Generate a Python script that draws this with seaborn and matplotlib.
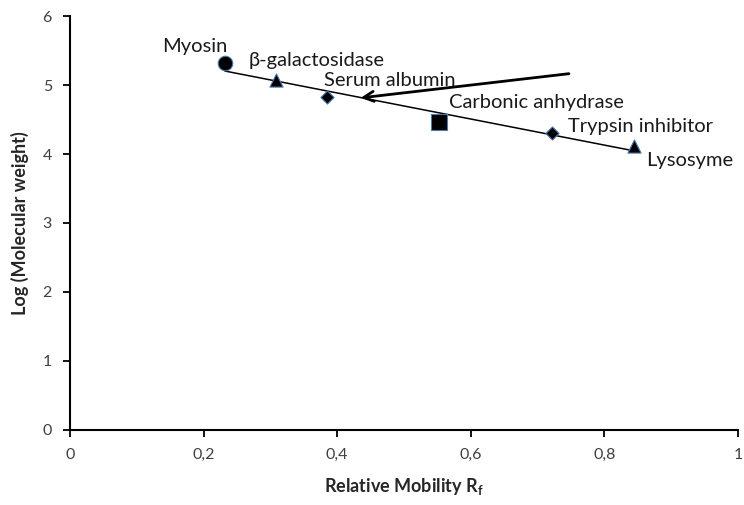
import matplotlib
matplotlib.use("Agg")
import matplotlib.pyplot as plt
import seaborn as sns
import pandas as pd

proteins = ["Myosin", "β-galactosidase", "Serum albumin", "Carbonic anhydrase", "Trypsin inhibitor", "Lysosyme"]
rf = [0.232, 0.308, 0.385, 0.552, 0.722, 0.844]
log_mw = [5.32, 5.07, 4.83, 4.46, 4.30, 4.12]
marker_shapes = ["o", "^", "D", "s", "D", "^"]
marker_sizes = [110, 90, 45, 120, 45, 90]
label_pos = [(0.138, 5.56), (0.268, 5.36), (0.38, 5.07), (0.567, 4.75), (0.745, 4.40), (0.862, 3.90)]
arrow_start = (0.751, 5.17)
arrow_end = (0.431, 4.81)
xticks = [0, 0.2, 0.4, 0.6, 0.8, 1.0]
xticklabels = ["0", "0,2", "0,4", "0,6", "0,8", "1"]
yticks = [0, 1, 2, 3, 4, 5, 6]

sns.set_style("ticks")
plt.rcParams["font.family"] = ["Lato", "DejaVu Sans"]
plt.rcParams["mathtext.fontset"] = "custom"
plt.rcParams["mathtext.rm"] = "Lato"
plt.rcParams["mathtext.bf"] = "Lato:bold"

df = pd.DataFrame({"protein": proteins, "rf": rf, "logmw": log_mw})

fig = plt.figure(figsize=(7.44, 5.05), dpi=100)
ax = fig.add_axes([0.094, 0.149, 0.898, 0.819])

sns.regplot(data=df, x="rf", y="logmw", scatter=False, ci=None, ax=ax,
            line_kws=dict(color="black", lw=1.1), truncate=True)

for i, row in df.iterrows():
    sns.scatterplot(x=[row.rf], y=[row.logmw], marker=marker_shapes[i], s=marker_sizes[i],
                    color="black", edgecolor="#4a7ab0", linewidth=0.8, ax=ax, zorder=5)
    ax.text(label_pos[i][0], label_pos[i][1], row.protein, fontsize=14.5, color="#1a1a1a",
            ha="left", va="center", clip_on=False)

ax.annotate("", xy=arrow_end, xytext=arrow_start,
            arrowprops=dict(arrowstyle="->", color="black", lw=2, mutation_scale=18))

ax.set_xlim(0, 1)
ax.set_ylim(0, 6)
ax.set_xticks(xticks)
ax.set_xticklabels(xticklabels)
ax.set_yticks(yticks)
ax.tick_params(axis="both", labelsize=11.5, colors="black", labelcolor="#404040",
               direction="out", length=5, width=1.3, pad=8)
for s in ["left", "bottom"]:
    ax.spines[s].set_linewidth(1.5)
    ax.spines[s].set_color("black")
sns.despine(ax=ax)

ax.set_xlabel(r"Relative Mobility R$_{\mathbf{f}}$", fontsize=13, fontweight="bold", labelpad=10)
ax.set_ylabel("Log (Molecular weight)", fontsize=13, fontweight="bold", labelpad=10)

fig.savefig("out.png", dpi=100)
